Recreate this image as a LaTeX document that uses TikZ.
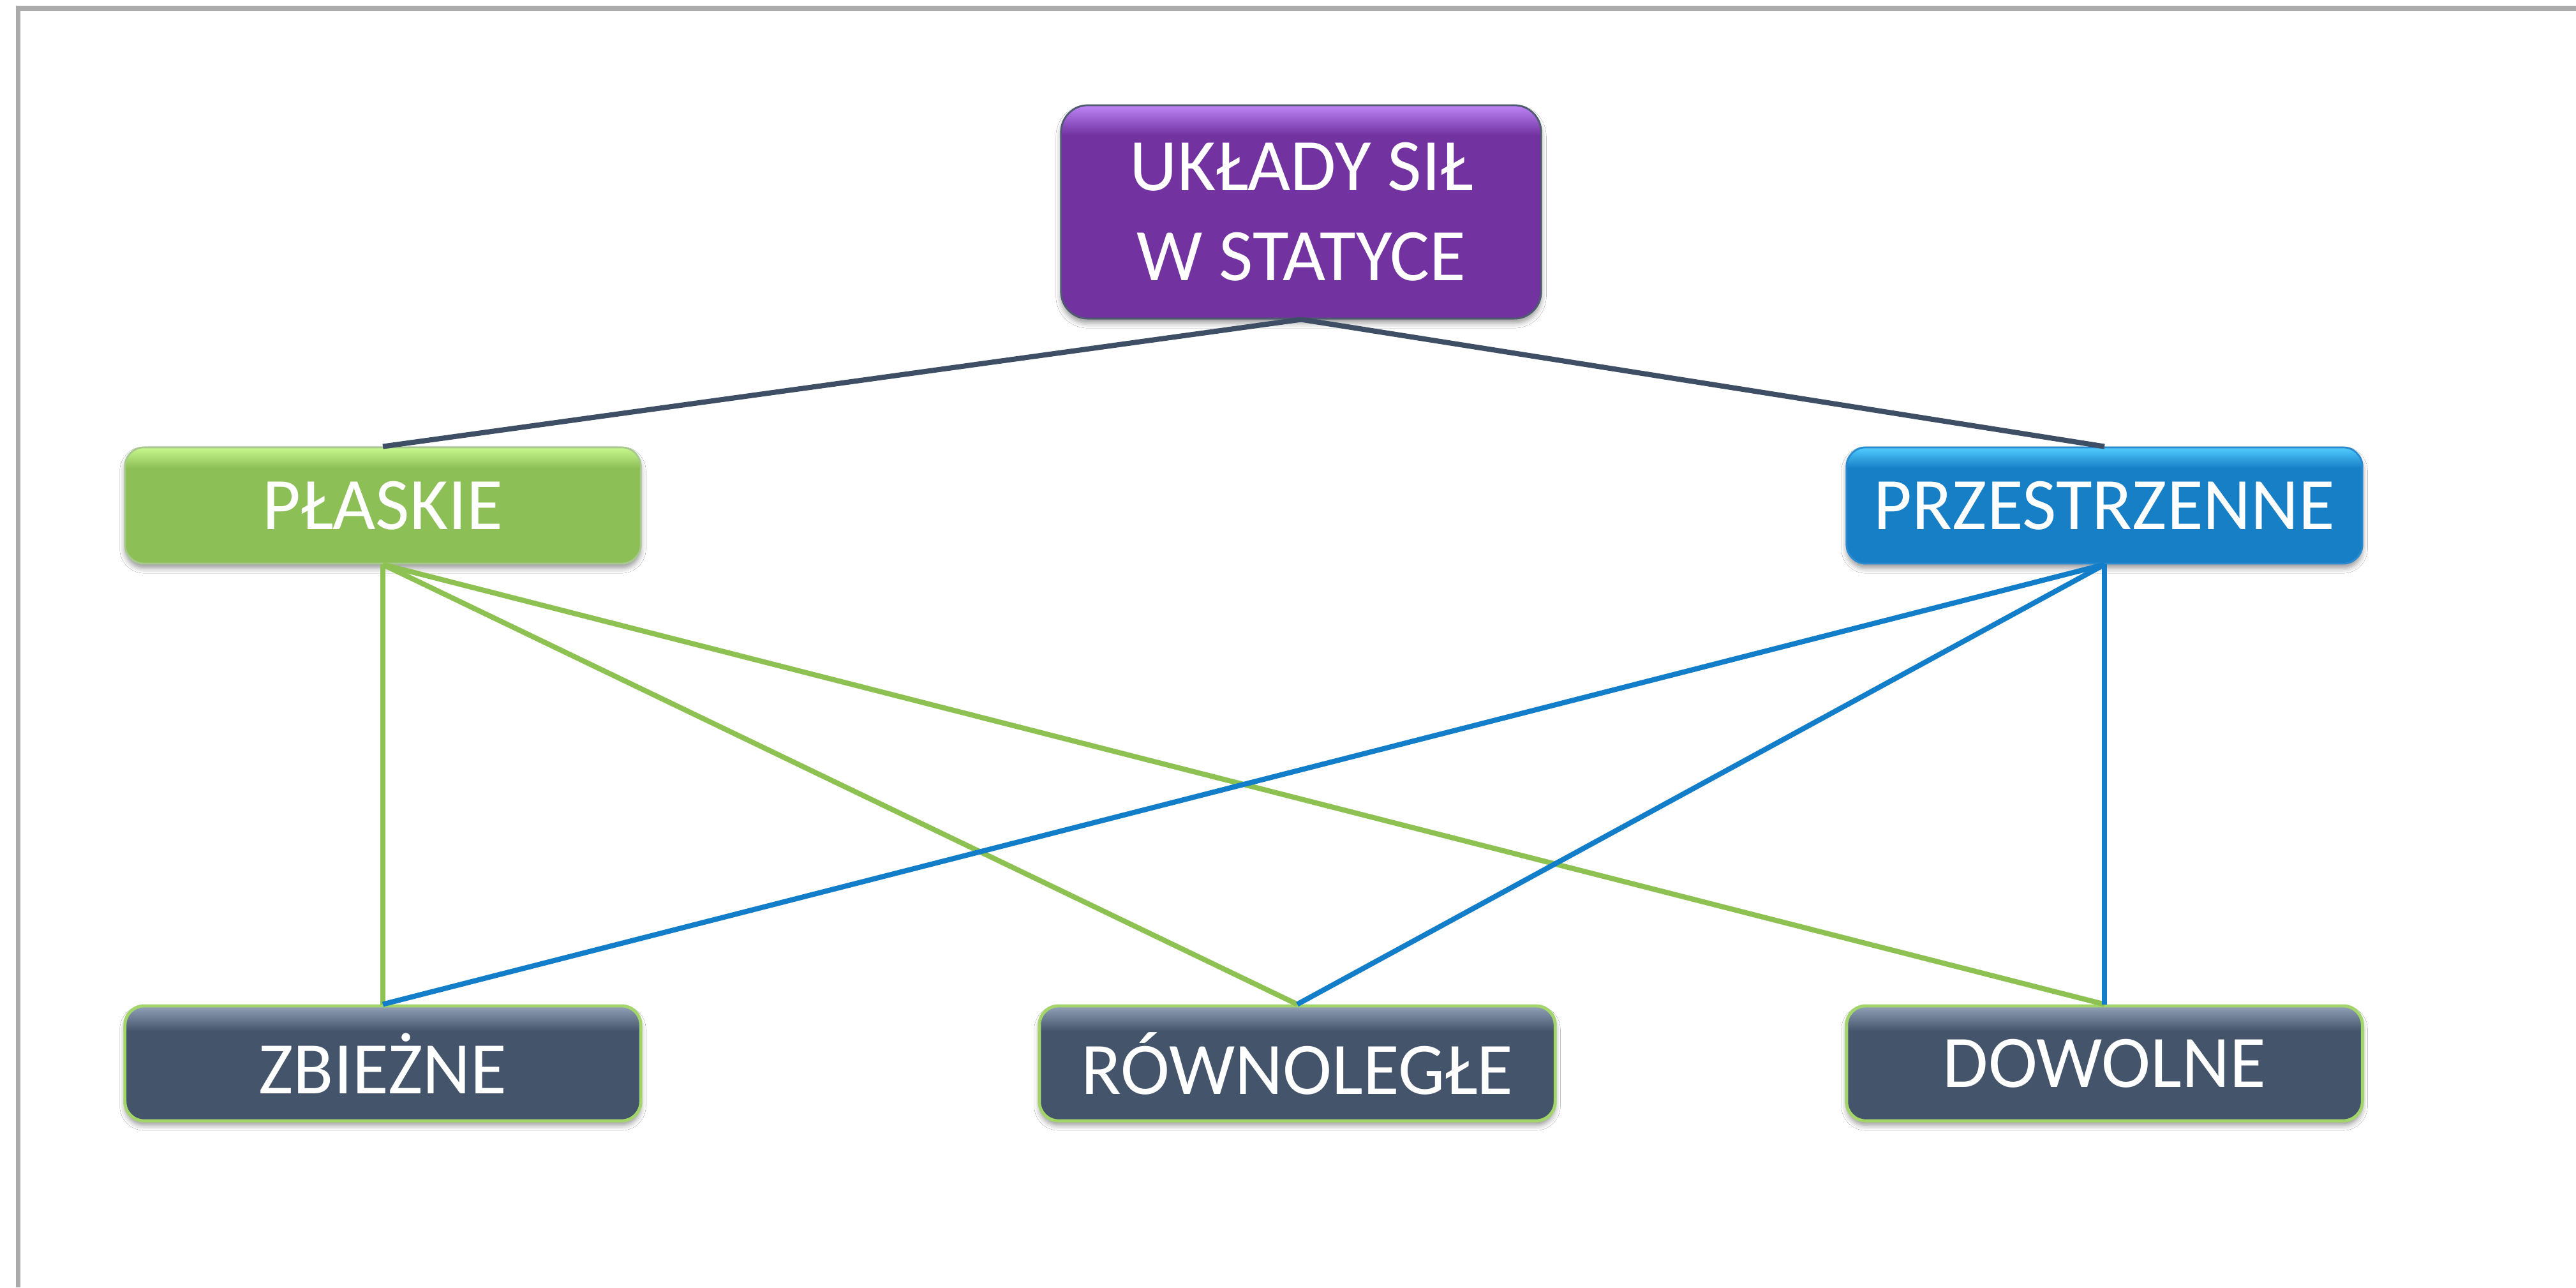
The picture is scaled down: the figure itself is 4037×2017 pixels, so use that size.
\documentclass[tikz,border=0pt]{standalone}
\usepackage{fontspec}
\setmainfont{Carlito}
\usetikzlibrary{shadows.blur}

% palette
\definecolor{purplebase}{HTML}{7233A0}
\definecolor{purplelight}{HTML}{BE84F7}
\definecolor{purpleedge}{HTML}{4E5A6E}
\definecolor{greenbase}{HTML}{8DBF57}
\definecolor{greenlight}{HTML}{C8F98F}
\definecolor{greenedge}{HTML}{A8C890}
\definecolor{bluebase}{HTML}{167FC6}
\definecolor{bluelight}{HTML}{52CCFF}
\definecolor{blueedge}{HTML}{2A8AD0}
\definecolor{slatebase}{HTML}{44546A}
\definecolor{slatelight}{HTML}{92A2B8}
\definecolor{slateedge}{HTML}{A3D56B}
\definecolor{linedark}{HTML}{3E4E64}
\definecolor{linegreen}{HTML}{8DC152}
\definecolor{lineblue}{HTML}{127DC8}
\definecolor{framegray}{HTML}{ABABAB}

% box fills: flat colour with a bright band along the top edge
\pgfdeclareverticalshading{purpleshade}{100bp}{color(0bp)=(purplebase); color(25bp)=(purplebase); color(68bp)=(purplebase); color(75bp)=(purplelight); color(100bp)=(purplelight)}
\pgfdeclareverticalshading{greenshade}{100bp}{color(0bp)=(greenbase); color(25bp)=(greenbase); color(66bp)=(greenbase); color(75bp)=(greenlight); color(100bp)=(greenlight)}
\pgfdeclareverticalshading{blueshade}{100bp}{color(0bp)=(bluebase); color(25bp)=(bluebase); color(66bp)=(bluebase); color(75bp)=(bluelight); color(100bp)=(bluelight)}
\pgfdeclareverticalshading{slateshade}{100bp}{color(0bp)=(slatebase); color(25bp)=(slatebase); color(64bp)=(slatebase); color(75bp)=(slatelight); color(100bp)=(slatelight)}

\tikzset{
  box/.style={rounded corners=0.3cm, minimum width=8.08cm, minimum height=1.82cm,
    inner sep=0pt, align=center, text=white, line width=0.8pt,
    font=\fontsize{33}{40}\selectfont,
    blur shadow={shadow xshift=0pt, shadow yshift=-0.07cm,
      shadow blur radius=0.08cm, shadow opacity=40}},
  rootbox/.style={box, shade, shading=purpleshade, draw=purpleedge,
    rounded corners=0.42cm, minimum width=7.52cm, minimum height=3.34cm},
  planebox/.style={box, shade, shading=greenshade, draw=greenedge},
  spacebox/.style={box, shade, shading=blueshade, draw=blueedge},
  kindbox/.style={box, shade, shading=slateshade, draw=slateedge, line width=1.4pt,
    minimum height=1.80cm},
  darkconn/.style={draw=linedark, line width=2.3pt},
  greenconn/.style={draw=linegreen, line width=2.3pt},
  blueconn/.style={draw=lineblue, line width=2.3pt},
}

\begin{document}
\begin{tikzpicture}[x=0.01cm, y=-0.01cm]
  \useasboundingbox (0,0) rectangle (4037,2017);
  \fill[white] (0,0) rectangle (4037,2017);

  % page frame (left and top edges)
  \draw[framegray, line width=2pt] (28.5,2017) -- (28.5,13) -- (4037,13);

  % nodes
  \node[rootbox]  (root)   at (2039,332)  {UKŁADY SIŁ\\W STATYCE};
  \node[planebox] (plane)  at (600,792)   {PŁASKIE};
  \node[spacebox] (space)  at (3298,792)  {PRZESTRZENNE};
  \node[kindbox]  (conc)   at (600,1666)  {ZBIEŻNE};
  \node[kindbox]  (para)   at (2033,1666) {RÓWNOLEGŁE};
  \node[kindbox]  (gen)    at (3298,1666) {DOWOLNE};

  % connectors
  \draw[darkconn] (root.south) -- (plane.north);
  \draw[darkconn] (root.south) -- (space.north);

  \draw[greenconn] (plane.south) -- (conc.north);
  \draw[greenconn] (plane.south) -- (para.north);
  \draw[greenconn] (plane.south) -- (gen.north);

  \draw[blueconn] (space.south) -- (conc.north);
  \draw[blueconn] (space.south) -- (para.north);
  \draw[blueconn] (space.south) -- (gen.north);
\end{tikzpicture}
\end{document}
